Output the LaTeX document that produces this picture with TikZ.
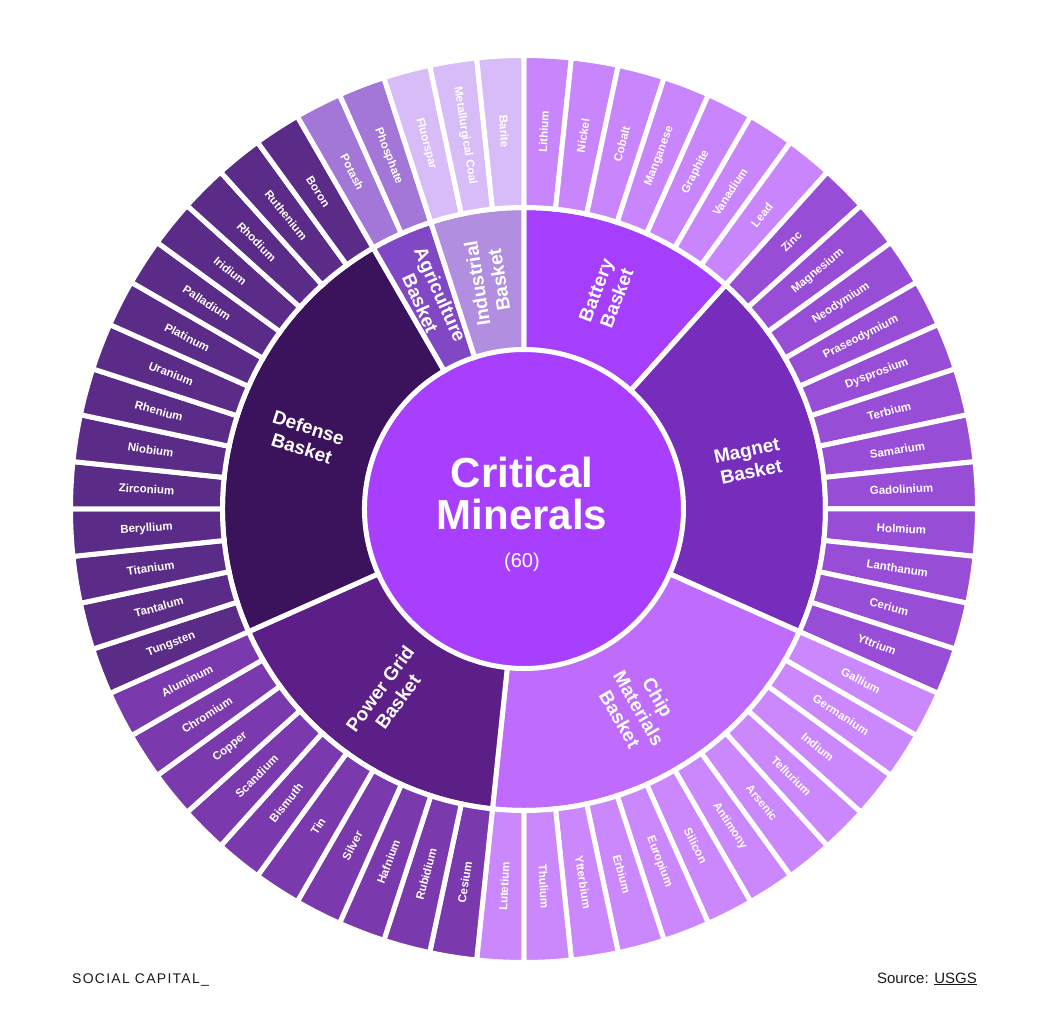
\documentclass[tikz,border=0pt]{standalone}
\usepackage{fontspec}
\setmainfont{Liberation Sans}
\usepackage{tikz}

\definecolor{coreviolet}{HTML}{A83FFF}
\definecolor{batb}{HTML}{A63EFD}
\definecolor{batm}{HTML}{C985FC}
\definecolor{magb}{HTML}{772DBB}
\definecolor{magm}{HTML}{984DD6}
\definecolor{chipb}{HTML}{BF6CFD}
\definecolor{chipm}{HTML}{CB87FC}
\definecolor{gridb}{HTML}{5C1E87}
\definecolor{gridm}{HTML}{7A3AAD}
\definecolor{defb}{HTML}{3B125C}
\definecolor{defm}{HTML}{5A2C87}
\definecolor{agrb}{HTML}{8148C5}
\definecolor{agrm}{HTML}{A277D8}
\definecolor{indb}{HTML}{B18EDF}
\definecolor{indm}{HTML}{D7BCF8}
\definecolor{inkgray}{HTML}{1A1A1A}

\begin{document}
\begin{tikzpicture}[x=1pt, y=1pt, every node/.style={text=white, inner sep=0pt},
    wedge/.style={draw=white, line width=5pt},
    mineral/.style={font=\bfseries\fontsize{11.5}{13}\selectfont},
    basket/.style={font=\bfseries\fontsize{19}{22}\selectfont, align=center}]
    \useasboundingbox (-524,-519) rectangle (521,509);

    % Center
    \fill[coreviolet] (0,0) circle (159.5);
    \node[font=\bfseries\fontsize{42}{46}\selectfont, anchor=base] (crit) at (-2,21) {Critical};
    \node[font=\bfseries\fontsize{42}{46}\selectfont, anchor=base] (mins) at (-2,-21) {Minerals};
    \node[font=\fontsize{20}{22}\selectfont, anchor=base] (count) at (-2,-59) {(60)};

    % Baskets
    \foreach \from/\to/\col/\rot/\txt [count=\k] in {
        90/48/batb/69/{Battery\\Basket},
        48/-24/magb/12/{Magnet\\Basket},
        -24/-96/chipb/-60/{Chip\\Materials\\Basket},
        -96/-156/gridb/54/{Power Grid\\Basket},
        -156/-240/defb/-18/{Defense\\Basket},
        -240/-252/agrb/-66/{Agriculture\\Basket},
        -252/-270/indb/99/{Industrial\\Basket}} {
        \filldraw[wedge, fill=\col] (\from:159.5) arc[start angle=\from, end angle=\to, radius=159.5]
            -- (\to:301.5) arc[start angle=\to, end angle=\from, radius=301.5] -- cycle;
        \node[basket, rotate=\rot] (basket\k) at ({(\from+\to)/2}:230) {\txt};
    }

    % Minerals
    \foreach \name/\col [count=\i from 0] in {
        Lithium/batm, Nickel/batm, Cobalt/batm, Manganese/batm, Graphite/batm, Vanadium/batm, Lead/batm,
        Zinc/magm, Magnesium/magm, Neodymium/magm, Praseodymium/magm, Dysprosium/magm, Terbium/magm,
        Samarium/magm, Gadolinium/magm, Holmium/magm, Lanthanum/magm, Cerium/magm, Yttrium/magm,
        Gallium/chipm, Germanium/chipm, Indium/chipm, Tellurium/chipm, Arsenic/chipm, Antimony/chipm,
        Silicon/chipm, Europium/chipm, Erbium/chipm, Ytterbium/chipm, Thulium/chipm, Lutetium/chipm,
        Cesium/gridm, Rubidium/gridm, Hafnium/gridm, Silver/gridm, Tin/gridm, Bismuth/gridm,
        Scandium/gridm, Copper/gridm, Chromium/gridm, Aluminum/gridm,
        Tungsten/defm, Tantalum/defm, Titanium/defm, Beryllium/defm, Zirconium/defm, Niobium/defm,
        Rhenium/defm, Uranium/defm, Platinum/defm, Palladium/defm, Iridium/defm, Rhodium/defm,
        Ruthenium/defm, Boron/defm,
        Potash/agrm, Phosphate/agrm,
        Fluorspar/indm, Metallurgical Coal/indm, Barite/indm} {
        \pgfmathsetmacro\a{87-6*\i}
        \pgfmathsetmacro\rot{cos(\a)<0 ? \a+180 : \a}
        \filldraw[wedge, fill=\col] ({\a+3}:301.5) arc[start angle=\a+3, end angle=\a-3, radius=301.5]
            -- ({\a-3}:453.5) arc[start angle=\a-3, end angle=\a+3, radius=453.5] -- cycle;
        \node[mineral, rotate=\rot] (min\i) at (\a:378) {\name};
    }

    % Footer
    \node[anchor=base west, text=inkgray, font=\fontsize{14}{16}\selectfont\addfontfeature{LetterSpace=9}] (brand) at (-452,-474) {SOCIAL CAPITAL\_};
    \node[anchor=base east, text=inkgray, font=\fontsize{15}{17}\selectfont] (source) at (453,-474) {Source: \underline{USGS}};
\end{tikzpicture}
\end{document}
